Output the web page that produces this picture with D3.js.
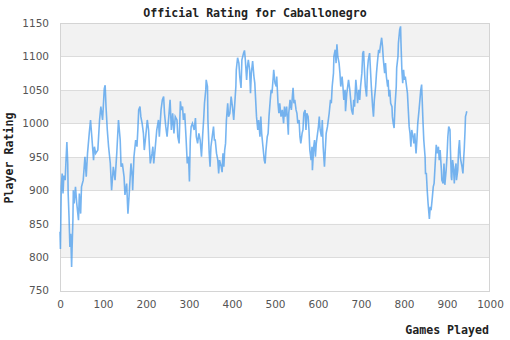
<!DOCTYPE html>
<html>
<head>
<meta charset="utf-8">
<script src="https://cdn.jsdelivr.net/npm/d3@7"></script>
<style>
  html, body { margin: 0; padding: 0; background: #fff; }
  svg { display: block; }
</style>
</head>
<body>
<svg id="chart" width="510" height="340"></svg>
<script>
// Rating history: game number and rating after that game
const games = [0,1,3,5,7,9,12,14,16,18,19,21,23,25,27,28,30,31,33,36,39,43,45,48,50,54,58,61,64,68,71,74,78,80,83,88,92,95,99,103,105,107,110,113,117,
  120,124,128,132,136,140,142,145,149,151,155,158,161,165,168,169,172,176,179,181,183,186,188,191,194,196,200,203,206,208,210,214,216,218,221,225,229,231,235,238,241,243,
  246,249,253,256,259,262,265,268,272,274,277,280,282,285,287,290,293,296,299,301,303,305,308,312,315,317,320,323,326,329,332,334,336,339,340,343,344,347,349,351,354,357,359,361,364,367,369,371,375,
  377,379,381,383,385,387,390,392,395,398,401,404,406,409,410,413,416,418,421,423,427,429,431,434,436,438,441,443,445,448,451,453,455,457,460,462,465,467,469,472,475,477,479,482,484,486,489,491,493,496,497,500,503,
  504,507,509,511,514,517,520,522,524,527,529,531,532,535,538,542,544,546,549,551,553,556,558,560,563,565,567,570,572,574,577,579,581,584,586,587,590,592,594,596,598,601,603,605,608,610,612,615,617,619,622,624,626,629,631,633,636,637,640,
  642,644,646,649,651,653,656,658,660,663,664,667,669,671,674,676,678,681,683,685,688,690,692,695,697,699,702,704,706,708,710,713,715,717,720,722,724,727,729,731,734,736,738,741,743,745,748,750,752,755,757,759,
  762,763,765,767,769,772,773,775,777,779,782,783,786,787,790,792,793,795,797,799,801,803,806,808,810,812,814,816,818,821,823,825,828,830,832,835,837,839,841,842,844,846,849,850,852,854,856,858,859,861,863,866,868,870,873,875,877,880,882,884,887,
  888,891,893,895,898,900,902,904,907,908,910,911,913,915,917,918,921,922,925,927,929,931,932,935,937,939,940,942,943,945,946];
const rating = [838,812,905,925,895,922,915,945,972,940,895,860,815,835,785,810,855,900,880,905,880,855,895,865,905,915,950,920,955,985,1005,980,945,965,955,960,1005,1025,1005,1052,1057,1025,990,965,940,
  900,935,915,955,1005,975,935,940,920,893,910,865,895,940,920,900,950,975,965,990,1020,1025,1010,1000,985,960,985,1005,990,965,940,955,965,940,960,990,1005,980,1020,1035,1040,1015,
  995,980,1010,1035,990,1015,985,1010,1005,980,970,1033,1020,1025,1005,1015,980,940,950,913,975,995,1000,990,1008,980,970,985,975,950,985,1005,1030,1050,1065,1055,1005,955,935,965,980,995,975,975,955,945,925,945,935,
  927,955,935,960,970,1005,1030,1010,1015,1040,1025,1005,1025,1055,1080,1098,1090,1070,1053,1095,1105,1109,1095,1065,1085,1095,1080,1045,1075,1093,1070,1060,1035,1010,990,1005,980,1010,985,965,945,940,960,980,985,1010,1035,1050,1045,1070,1080,1060,1055,
  1070,1030,1015,1030,1010,1020,1000,1025,1010,1025,1005,983,1015,1035,1020,1053,1030,1035,1020,1015,1000,1005,980,970,985,990,1015,1020,990,1015,1010,990,960,945,965,930,965,975,950,970,980,995,1010,990,980,1005,965,935,960,985,995,1005,1015,1035,1030,1055,1075,1100,1110,
  1090,1118,1100,1090,1075,1055,1070,1055,1035,1050,1018,1045,1055,1065,1050,1035,1020,1013,1035,1025,1065,1050,1030,1050,1035,1055,1075,1105,1108,1080,1055,1040,1080,1095,1105,1080,1055,1025,1010,1035,1055,1075,1090,1110,1105,1115,1128,1115,1095,1075,1090,1070,
  1055,1065,1040,1050,1030,1025,1010,1000,993,1025,1055,1083,1100,1120,1140,1145,1120,1080,1060,1080,1065,1070,1055,1045,1020,995,985,965,990,980,970,985,955,975,1000,1020,1035,1050,1058,1040,1005,975,950,925,925,900,880,865,857,875,870,890,905,910,945,968,955,965,945,960,930,
  915,910,940,908,930,950,980,995,990,960,920,915,945,935,910,925,940,915,930,960,975,950,945,935,925,950,960,990,1010,1015,1018];

const xTicks = [0,100,200,300,400,500,600,700,800,900,1000];
const yTicks = [750,800,850,900,950,1000,1050,1100,1150];

const titleText = "Official Rating for Caballonegro";
const xLabel = "Games Played";
const yLabel = "Player Rating";

const svg = d3.select("#chart");
const plotLeft = 60, plotRight = 490, plotTop = 23, plotBottom = 290.5;

const x = d3.scaleLinear().domain([0, 1000]).range([plotLeft, plotRight]);
const y = d3.scaleLinear().domain([750, 1150]).range([plotBottom, plotTop]);

// alternating horizontal bands, shaded every other 50 points
const bands = d3.range(yTicks.length - 1).map(i => [yTicks[i], yTicks[i + 1]]);
svg.append("g").selectAll("rect").data(bands).join("rect")
  .attr("x", plotLeft).attr("width", plotRight - plotLeft)
  .attr("y", d => y(d[1])).attr("height", d => y(d[0]) - y(d[1]))
  .attr("fill", (d, i) => i % 2 === 1 ? "#f2f2f2" : "#ffffff");

// horizontal grid lines
svg.append("g").selectAll("line").data(yTicks).join("line")
  .attr("x1", plotLeft).attr("x2", plotRight)
  .attr("y1", d => Math.round(y(d)) + 0.5).attr("y2", d => Math.round(y(d)) + 0.5)
  .attr("stroke", "#dcdcdc").attr("stroke-width", 1);

// plot frame
svg.append("rect")
  .attr("x", plotLeft + 0.5).attr("y", Math.round(plotTop) + 0.5)
  .attr("width", plotRight - plotLeft - 1).attr("height", Math.round(plotBottom) - Math.round(plotTop))
  .attr("fill", "none").attr("stroke", "#d4d4d4");

// axes (labels only)
const fmt = d3.format("d");
const yAxis = d3.axisLeft(y).tickValues(yTicks).tickFormat(fmt).tickSize(0).tickPadding(11);
svg.append("g").attr("transform", `translate(${plotLeft},0)`).call(yAxis)
  .call(g => g.select(".domain").remove())
  .call(g => g.selectAll("text").attr("fill", "#555").style("font", "10.5px 'DejaVu Sans'"));

const xAxis = d3.axisBottom(x).tickValues(xTicks).tickFormat(fmt).tickSize(0).tickPadding(10);
svg.append("g").attr("transform", `translate(0,${plotBottom})`).call(xAxis)
  .call(g => g.select(".domain").remove())
  .call(g => g.selectAll("text").attr("fill", "#555").style("font", "10.5px 'DejaVu Sans'"));

// rating line
const line = d3.line().x((d, i) => x(games[i])).y(d => y(d));
svg.append("path").datum(rating)
  .attr("d", line)
  .attr("fill", "none")
  .attr("stroke", "#4a9cec")
  .attr("stroke-opacity", 0.75)
  .attr("stroke-width", 1.6)
  .attr("stroke-linejoin", "miter");

// titles
svg.append("text").attr("x", 255).attr("y", 16.5).attr("text-anchor", "middle")
  .style("font", "bold 11.6px 'DejaVu Sans Mono'").attr("fill", "#222").text(titleText);
svg.append("text").attr("x", 489).attr("y", 334).attr("text-anchor", "end")
  .style("font", "bold 11.6px 'DejaVu Sans Mono'").attr("fill", "#222").text(xLabel);
svg.append("text").attr("transform", "translate(13,158) rotate(-90)").attr("text-anchor", "middle")
  .style("font", "bold 11.6px 'DejaVu Sans Mono'").attr("fill", "#222").text(yLabel);
</script>
</body>
</html>
